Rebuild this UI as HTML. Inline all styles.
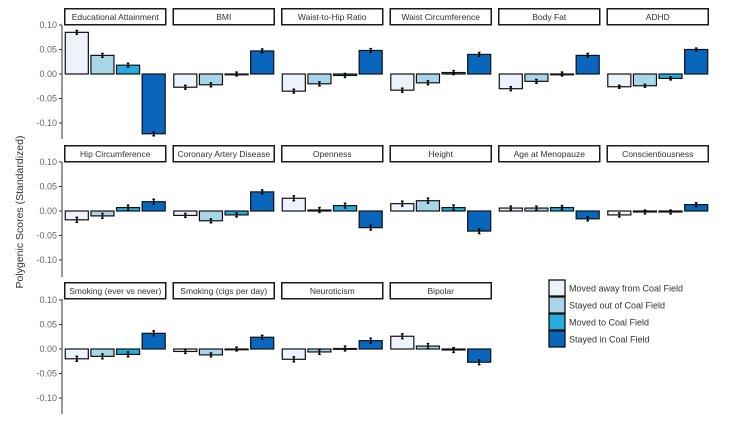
<!DOCTYPE html>
<html><head><meta charset="utf-8"><style>
body{margin:0;background:#fff;}
svg{display:block;font-family:"Liberation Sans",sans-serif;}
</style></head><body>
<svg id="chart" width="754" height="426"></svg>
<script>
const panels = ["Educational Attainment","BMI","Waist-to-Hip Ratio","Waist Circumference","Body Fat","ADHD","Hip Circumference","Coronary Artery Disease","Openness","Height","Age at Menopauze","Conscientiousness","Smoking (ever vs never)","Smoking (cigs per day)","Neuroticism","Bipolar"];
const groups = ["Moved away from Coal Field","Stayed out of Coal Field","Moved to Coal Field","Stayed in Coal Field"];
const movedAway = [0.085,-0.027,-0.035,-0.033,-0.030,-0.026,-0.018,-0.009,0.026,0.015,0.006,-0.008,-0.020,-0.005,-0.021,0.026];
const stayedOut = [0.038,-0.022,-0.020,-0.018,-0.015,-0.024,-0.010,-0.020,0.002,0.021,0.006,-0.002,-0.015,-0.012,-0.006,0.006];
const movedTo   = [0.018,0.000,-0.003,0.003,0.000,-0.009,0.007,-0.008,0.011,0.007,0.007,-0.002,-0.011,0.000,0.001,-0.002];
const stayedIn  = [-0.122,0.047,0.048,0.040,0.038,0.050,0.019,0.039,-0.034,-0.041,-0.016,0.013,0.032,0.024,0.017,-0.027];
const errs = [0.004,0.004,0.004,0.004,0.004,0.003,0.005,0.004,0.005,0.005,0.004,0.004,0.005,0.004,0.005,0.005];
const ticks = [0.10,0.05,0.00,-0.05,-0.10];
const tickLabels = ["0.10","0.05","0.00","-0.05","-0.10"];
const colors = ["#edf2fb","#a8d6e8","#27acdc","#0867bd"];
const series = [movedAway, stayedOut, movedTo, stayedIn];

const svg = document.getElementById('chart');
const NS = "http://www.w3.org/2000/svg";
function mk(tag, attrs, parent){const e=document.createElementNS(NS,tag);for(const k in attrs)e.setAttribute(k,attrs[k]);(parent||svg).appendChild(e);return e;}

const rowZero = [74, 211, 349];
const rowStrip = [8, 145, 282];
const rowBottom = [139, 277, 414];
const PX = 490;
const colX = i => 64 + i*108.5;
const PW = 102.5;
function yScale(r, v){return rowZero[r] - v*PX;}

const yt = mk('text',{x:23,y:212,transform:'rotate(-90 23 212)','text-anchor':'middle','font-size':'10.5',fill:'#333'});


yt.textContent = "Polygenic Scores (Standardized)";

for(let r=0;r<3;r++){
  const ax = mk('line',{x1:62,x2:62,y1:rowStrip[r]+17,y2:rowBottom[r],stroke:'#333','stroke-width':1});
  
  
  ticks.forEach((t,k)=>{
    const y = yScale(r,t);
    const tl = mk('line',{x1:59,x2:62,y1:y,y2:y,stroke:'#333','stroke-width':1});
    
    
    const tx = mk('text',{x:57,y:y+3.2,'text-anchor':'end','font-size':'9',fill:'#666'});
    
    
    tx.textContent = tickLabels[k];
  });
}

panels.forEach((name,p)=>{
  const r = Math.floor(p/6), c = p%6;
  const x0 = colX(c);
  const g = mk('g',{});
  
  
  const st = mk('rect',{x:x0+0.75,y:rowStrip[r]+0.75,width:PW-1.5,height:16,fill:'#fff',stroke:'#1a1a1a','stroke-width':1.5},g);
  
  
  const sl = mk('text',{x:x0+PW/2,y:rowStrip[r]+11.8,'text-anchor':'middle','font-size':'8.5',fill:'#333'},g);
  
  
  sl.textContent = name;
  const slot = PW/4;
  series.forEach((vals,s)=>{
    const v = vals[p];
    const bx = x0 + s*slot + slot*0.05;
    const bw = slot*0.9;
    const y0 = yScale(r,0), y1 = yScale(r,v);
    const b = mk('rect',{x:bx,y:Math.min(y0,y1),width:bw,height:Math.max(Math.abs(y1-y0),0.8),fill:colors[s],stroke:'#111','stroke-width':1.2},g);
    
    
    const cx = bx+bw/2, e = errs[p];
    const ea = yScale(r,v+e), eb = yScale(r,v-e);
    const el = mk('path',{d:`M${cx},${ea}V${eb}M${cx-1.3},${ea}H${cx+1.3}M${cx-1.3},${eb}H${cx+1.3}`,stroke:'#000','stroke-width':1.4,fill:'none'},g);
    
    
  });
});

const lg = mk('g',{});


groups.forEach((name,i)=>{
  const y = 280 + i*17;
  const k = mk('rect',{x:549,y:y,width:16,height:16,fill:colors[i],stroke:'#111','stroke-width':1.3},lg);
  
  
  const t = mk('text',{x:569,y:y+11.5,'font-size':'9',fill:'#333'},lg);
  
  
  t.textContent = name;
});
</script>
</body></html>
